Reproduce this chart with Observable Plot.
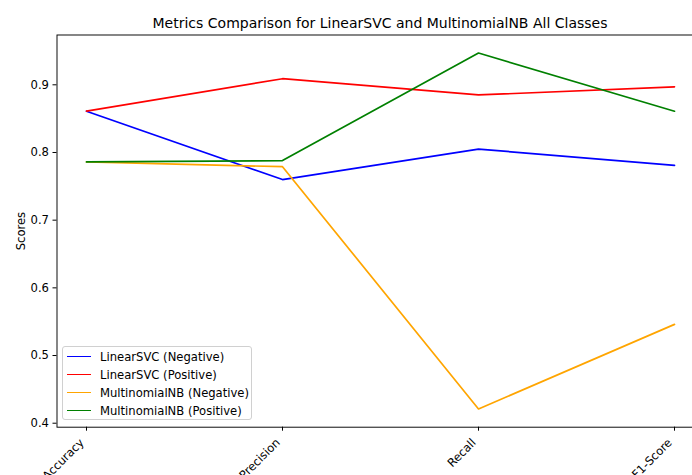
<!DOCTYPE html>
<html><head><meta charset="utf-8">
<script src="https://cdn.jsdelivr.net/npm/d3@7"></script>
<script src="https://cdn.jsdelivr.net/npm/@observablehq/plot@0.6"></script>
<style>
body{margin:0;background:#fff;}
#wrap{position:relative;width:692px;height:475px;overflow:hidden;font-family:"DejaVu Sans",sans-serif;color:#000;}
#title{position:absolute;left:0;top:15px;width:760px;text-align:center;font-size:14px;line-height:16px;white-space:nowrap;}
#chart{position:absolute;left:0;top:0;}
#legend{position:absolute;left:62px;top:346px;width:190px;height:74px;border:1px solid #d0d0d0;border-radius:3px;background:rgba(255,255,255,0.8);box-sizing:border-box;}
.row{position:absolute;left:0;height:18px;font-size:11.6px;line-height:18px;white-space:nowrap;}
.sw{position:absolute;left:4px;top:8px;width:24px;height:0;border-top:1.7px solid;}
.lab{position:absolute;left:37px;top:0;}
</style></head>
<body>
<div id="wrap">
  <div id="chart"></div>
  <div id="title"></div>
  <div id="legend"></div>
</div>
<script>
const titleText = "Metrics Comparison for LinearSVC and MultinomialNB All Classes";
const metrics = ["Accuracy", "Precision", "Recall", "F1-Score"];
const seriesNames = ["LinearSVC (Negative)", "LinearSVC (Positive)", "MultinomialNB (Negative)", "MultinomialNB (Positive)"];
const seriesColors = ["blue", "red", "orange", "green"];
const svcNeg = [0.861, 0.760, 0.805, 0.781];
const svcPos = [0.861, 0.909, 0.885, 0.897];
const nbNeg = [0.786, 0.779, 0.421, 0.546];
const nbPos = [0.786, 0.788, 0.947, 0.861];
const yTicks = [0.4, 0.5, 0.6, 0.7, 0.8, 0.9];
const yLabel = "Scores";

const allSeries = [svcNeg, svcPos, nbNeg, nbPos];
const rows = [];
allSeries.forEach((vals, s) => vals.forEach((v, i) => rows.push({series: seriesNames[s], metric: metrics[i], value: v})));

document.getElementById("title").textContent = titleText;

const plot = Plot.plot({
  width: 692,
  height: 475,
  marginTop: 34.5,
  marginBottom: 48.3,
  marginLeft: 56.5,
  marginRight: -11.5,
  style: {fontFamily: "DejaVu Sans, sans-serif", fontSize: "11.6px", color: "#000", background: "transparent", overflow: "hidden"},
  x: {type: "point", domain: metrics, padding: 0.15},
  y: {domain: [0.3941, 0.9736]},
  color: {domain: seriesNames, range: seriesColors},
  marks: [
    Plot.line(rows, {x: "metric", y: "value", z: "series", stroke: "series", strokeWidth: 1.7}),
    Plot.frame({stroke: "#000", strokeWidth: 0.95}),
    Plot.axisY({ticks: yTicks, tickFormat: d3.format(".1f"), tickSize: 4, tickPadding: 4, label: yLabel, labelAnchor: "center", labelArrow: "none", labelOffset: 40}),
    Plot.axisX({tickSize: 4, tickFormat: () => "", label: null}),
    Plot.axisX({tickSize: 0, tickPadding: 7, tickRotate: -45, label: null, dx: -4.5, dy: 6.5})
  ]
});
document.getElementById("chart").appendChild(plot);

const legend = document.getElementById("legend");
seriesNames.forEach((name, i) => {
  const r = document.createElement("div");
  r.className = "row";
  r.style.top = (1 + i * 18) + "px";
  const sw = document.createElement("div");
  sw.className = "sw";
  sw.style.borderTopColor = seriesColors[i];
  const lab = document.createElement("div");
  lab.className = "lab";
  lab.textContent = name;
  r.appendChild(sw); r.appendChild(lab);
  legend.appendChild(r);
});
</script>
</body></html>
